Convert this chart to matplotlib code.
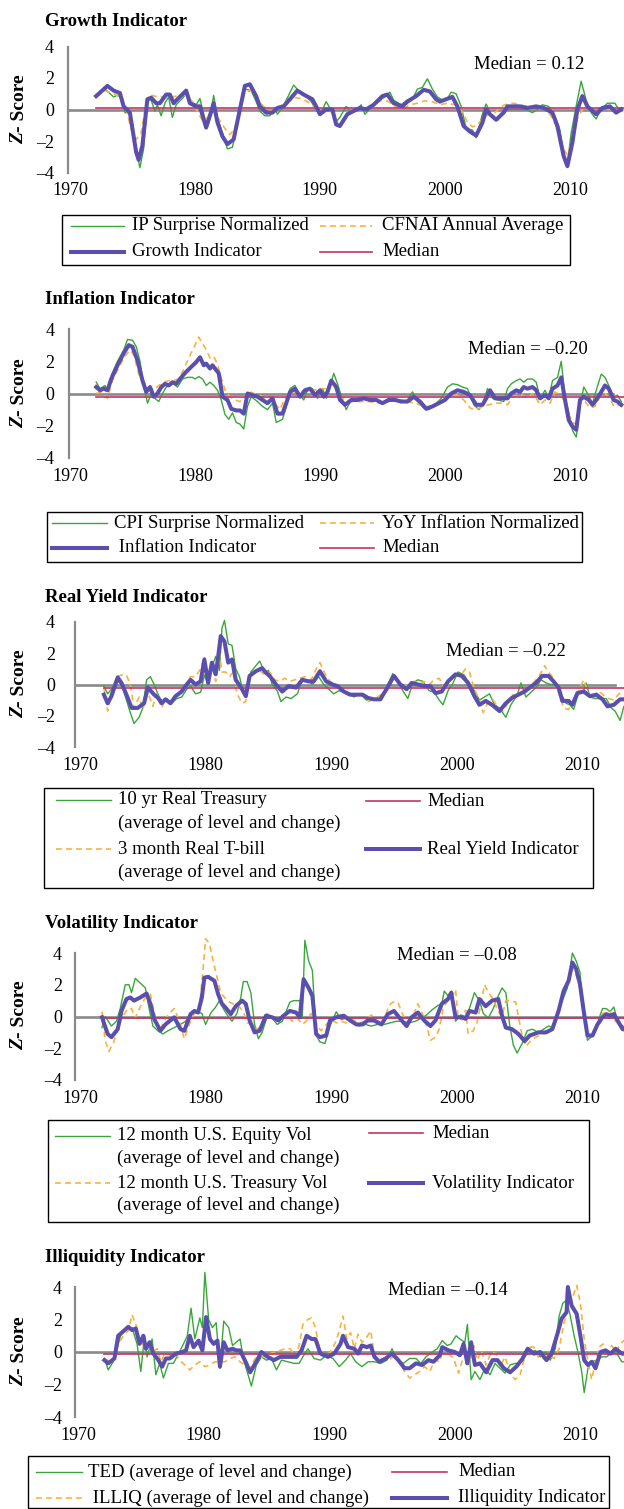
import matplotlib
matplotlib.use("Agg")
import matplotlib.pyplot as plt
from matplotlib.lines import Line2D
from matplotlib.patches import Rectangle

plt.rcParams['font.family'] = ['Liberation Serif', 'DejaVu Serif']

# ---------------------------------------------------------------- data
# (year, z-score) pairs
ip_surprise = [(1972.1,0.8),(1972.8,1.3),(1973.5,0.8),(1973.8,0.9),(1974.2,0.7),(1974.4,-0.2),(1974.8,-0.2),
    (1975.3,-2.5),(1975.6,-3.7),(1975.9,-2.5),(1976.2,0.6),(1976.5,0.6),(1976.8,-0.1),(1977.0,0.3),(1977.3,-0.4),
    (1977.6,0.4),(1977.9,0.8),(1978.2,-0.5),(1978.5,0.3),(1979.0,0.7),(1979.4,1.1),(1979.7,0.5),(1980.1,0.3),
    (1980.4,0.7),(1980.8,-0.6),(1981.0,-1.0),(1981.2,-0.6),(1981.5,0.9),(1981.8,-0.5),(1982.2,-1.5),(1982.6,-2.5),
    (1983.0,-2.4),(1983.2,-1.7),(1983.6,0.3),(1984.0,1.3),(1984.5,1.2),(1984.9,0.5),(1985.2,-0.1),(1985.6,-0.4),
    (1986.0,-0.4),(1986.4,0.0),(1986.6,-0.3),(1987.0,0.1),(1987.5,0.9),(1987.9,1.55),(1988.4,1.1),(1988.8,0.9),
    (1989.3,0.5),(1989.8,-0.1),(1990.1,-0.2),(1990.5,0.5),(1990.8,0.1),(1991.3,-0.8),(1991.6,-0.5),(1992.1,0.2),
    (1992.5,-0.2),(1993.0,0.0),(1993.3,0.3),(1993.6,-0.3),(1994.2,0.2),(1994.8,0.6),(1995.2,0.8),(1995.6,1.1),
    (1995.9,0.6),(1996.5,0.3),(1997.0,0.6),(1997.5,0.8),(1997.8,1.3),(1998.2,1.4),(1998.6,1.95),(1999.0,1.3),
    (1999.4,0.8),(1999.8,0.6),(2000.2,0.7),(2000.5,1.1),(2000.9,1.0),(2001.3,0.2),(2001.7,-1.2),(2002.2,-1.3),
    (2002.5,-1.8),(2003.0,-0.3),(2003.3,0.35),(2003.7,-0.3),(2004.2,-0.7),(2004.7,-0.2),(2005.1,0.0),(2005.6,0.0),
    (2006.0,0.0),(2006.5,0.0),(2007.0,-0.2),(2007.4,0.0),(2007.8,0.3),(2008.3,0.2),(2008.8,-0.4),(2009.2,-1.3),
    (2009.5,-2.8),(2009.8,-3.5),(2010.1,-1.5),(2010.5,0.2),(2010.9,1.8),(2011.3,0.6),(2011.7,-0.2),(2012.1,-0.6),
    (2012.5,0.0),(2013.0,0.4),(2013.6,0.4),(2013.9,0.0),(2014.2,0.1)]
cfnai = [(1972.1,0.8),(1972.8,1.2),(1973.5,1.0),(1974.0,0.8),(1974.5,0.0),(1975.0,-1.5),(1975.3,-1.9),(1975.7,-1.5),
    (1976.1,0.4),(1976.6,0.9),(1977.0,0.8),(1977.6,0.8),(1978.2,0.8),(1978.8,0.9),(1979.3,0.9),(1979.8,0.5),
    (1980.3,-0.3),(1980.7,-0.8),(1981.0,-0.5),(1981.5,-0.1),(1982.0,-0.7),(1982.4,-1.2),(1982.8,-1.6),(1983.2,-1.2),
    (1983.6,0.0),(1984.0,1.1),(1984.5,1.2),(1985.0,0.6),(1985.5,0.2),(1986.0,-0.1),(1986.5,0.0),(1987.0,0.3),
    (1987.5,0.5),(1988.0,0.75),(1988.5,0.7),(1989.0,0.5),(1989.5,0.2),(1990.0,-0.2),(1990.5,0.0),(1991.0,-0.2),
    (1991.4,-0.8),(1991.8,-0.7),(1992.2,-0.3),(1992.8,0.0),(1993.5,0.1),(1994.0,0.2),(1994.5,0.4),(1995.0,0.6),
    (1995.5,0.5),(1996.0,0.2),(1996.6,0.0),(1997.2,0.3),(1997.8,0.4),(1998.4,0.55),(1999.0,0.5),(1999.6,0.3),
    (2000.2,0.4),(2000.8,0.3),(2001.3,0.0),(2001.8,-0.8),(2002.2,-1.1),(2002.6,-1.0),(2003.0,-0.6),(2003.5,-0.3),
    (2004.0,-0.2),(2004.5,0.2),(2005.0,0.35),(2005.5,0.4),(2006.0,0.3),(2006.5,0.2),(2007.0,0.1),(2007.5,0.1),
    (2008.0,0.0),(2008.5,-0.4),(2009.0,-1.2),(2009.4,-2.4),(2009.8,-2.9),(2010.2,-1.9),(2010.6,-0.6),(2011.0,0.0),
    (2011.5,0.1),(2012.0,0.0),(2012.5,0.1),(2013.0,0.0),(2013.5,0.0),(2014.2,0.0)]
growth_ind = [(1972.1,0.85),(1973.0,1.5),(1973.5,1.2),(1974.0,1.05),(1974.3,0.2),(1974.8,-0.2),(1975.3,-2.7),(1975.5,-3.2),
    (1975.8,-2.3),(1976.2,0.65),(1976.5,0.75),(1976.9,0.4),(1977.2,0.4),(1977.7,0.95),(1978.0,0.95),(1978.3,0.4),
    (1978.6,0.65),(1979.3,1.2),(1979.6,0.4),(1980.1,0.2),(1980.4,0.2),(1980.9,-1.15),(1981.2,-0.4),(1981.5,0.4),
    (1981.8,-0.8),(1982.2,-1.7),(1982.6,-2.2),(1983.1,-1.9),(1983.6,0.0),(1984.0,1.5),(1984.4,1.6),(1984.9,0.85),
    (1985.2,0.2),(1985.7,-0.2),(1986.2,-0.2),(1986.6,0.1),(1987.1,0.2),(1987.6,0.65),(1988.2,1.2),(1988.7,0.95),
    (1989.4,0.65),(1989.7,0.2),(1990.0,-0.3),(1990.5,0.0),(1991.0,0.0),(1991.3,-0.95),(1991.6,-1.05),(1992.2,-0.3),
    (1992.7,-0.1),(1993.2,0.1),(1993.7,0.0),(1994.3,0.3),(1995.0,0.85),(1995.4,0.95),(1995.9,0.4),(1996.6,0.2),
    (1997.0,0.5),(1997.7,0.85),(1998.3,1.25),(1998.8,1.15),(1999.3,0.65),(1999.6,0.5),(2000.1,0.65),(2000.6,0.8),
    (2001.0,0.2),(2001.5,-1.05),(2002.0,-1.4),(2002.5,-1.65),(2003.0,-0.85),(2003.3,0.0),(2003.6,-0.3),(2004.1,-0.65),
    (2004.7,-0.2),(2005.0,0.2),(2006.0,0.2),(2006.6,0.1),(2007.3,0.2),(2007.9,0.1),(2008.6,-0.2),(2009.0,-1.05),
    (2009.5,-2.95),(2009.8,-3.6),(2010.2,-2.1),(2010.6,0.0),(2011.0,0.85),(2011.4,0.2),(2012.1,-0.3),(2012.6,0.1),
    (2013.2,0.2),(2013.7,-0.2),(2014.1,0.0)]

cpi_surprise = [(1972.1,0.7),(1972.4,0.3),(1972.8,0.5),(1973.0,0.2),(1973.3,1.1),(1973.8,2.0),(1974.3,2.7),(1974.6,3.35),
    (1975.0,3.3),(1975.3,2.9),(1975.6,2.0),(1975.9,0.5),(1976.2,-0.6),(1976.5,0.0),(1976.8,-0.3),(1977.1,-0.5),
    (1977.4,0.0),(1977.7,0.4),(1978.0,0.5),(1978.3,0.6),(1978.6,0.4),(1979.0,0.9),(1979.4,1.0),(1979.8,1.0),
    (1980.0,0.9),(1980.3,1.05),(1980.6,0.9),(1980.9,0.5),(1981.2,0.7),(1981.5,0.5),(1981.8,0.2),(1982.1,-0.4),
    (1982.4,-1.3),(1982.7,-1.6),(1983.0,-1.2),(1983.3,-1.8),(1983.6,-1.9),(1983.9,-2.2),(1984.2,-0.8),(1984.5,-0.2),
    (1985.0,-0.5),(1985.4,-0.8),(1985.8,-1.0),(1986.2,-0.6),(1986.5,-1.8),(1987.0,-1.6),(1987.3,-0.8),(1987.6,0.3),
    (1988.0,0.5),(1988.3,0.0),(1988.7,-0.4),(1989.0,0.2),(1989.4,0.3),(1989.8,-0.3),(1990.2,0.3),(1990.5,-0.3),
    (1990.8,0.4),(1991.1,1.25),(1991.4,0.6),(1991.8,-0.4),(1992.1,-1.0),(1992.5,-0.4),(1993.0,-0.4),(1993.5,-0.3),
    (1994.0,-0.4),(1994.5,-0.4),(1995.0,-0.6),(1995.5,-0.3),(1996.0,-0.3),(1996.5,-0.5),(1997.0,-0.4),(1997.4,0.1),
    (1997.8,-0.5),(1998.3,-0.9),(1998.7,-1.0),(1999.2,-0.7),(1999.7,-0.3),(2000.2,0.4),(2000.6,0.6),(2001.0,0.55),
    (2001.4,0.4),(2001.8,0.3),(2002.3,-0.7),(2002.7,-1.0),(2003.0,-0.7),(2003.4,0.3),(2003.8,-0.3),(2004.2,-0.4),
    (2004.7,-0.5),(2005.0,0.3),(2005.3,0.6),(2005.7,0.8),(2006.0,0.9),(2006.3,0.7),(2006.6,0.9),(2007.0,0.9),
    (2007.3,0.7),(2007.6,-0.3),(2008.0,0.2),(2008.3,-0.3),(2008.6,0.8),(2009.0,1.0),(2009.3,2.0),(2009.6,-0.2),
    (2009.9,-1.2),(2010.2,-2.3),(2010.5,-2.7),(2010.8,-0.8),(2011.1,0.4),(2011.4,0.0),(2011.8,-0.6),(2012.1,0.2),
    (2012.5,1.2),(2012.8,1.0),(2013.1,0.5),(2013.5,-0.2),(2013.8,-0.1),(2014.1,-0.5)]
yoy_inflation = [(1972.1,0.0),(1972.5,0.1),(1973.0,-0.3),(1973.4,0.8),(1973.9,1.6),(1974.4,2.3),(1974.8,2.7),(1975.1,2.4),
    (1975.5,1.2),(1975.9,0.7),(1976.3,0.4),(1976.7,0.2),(1977.1,0.5),(1977.5,0.7),(1977.9,0.8),(1978.3,0.8),
    (1978.7,0.9),(1979.1,1.5),(1979.5,2.2),(1980.0,3.0),(1980.3,3.5),(1980.6,3.1),(1980.9,2.7),(1981.2,2.2),
    (1981.5,2.3),(1981.8,1.8),(1982.1,1.0),(1982.4,0.2),(1982.8,-0.2),(1983.2,-0.4),(1983.6,-0.5),(1984.0,-0.2),
    (1984.3,0.15),(1984.7,0.0),(1985.2,-0.1),(1985.6,-0.3),(1986.0,-0.2),(1986.4,-0.6),(1986.8,-1.0),(1987.2,-0.3),
    (1987.6,0.1),(1988.0,0.1),(1988.5,0.1),(1989.0,0.3),(1989.5,0.2),(1990.0,0.3),(1990.5,0.3),(1991.0,0.7),
    (1991.4,0.0),(1991.8,-0.3),(1992.3,-0.5),(1993.0,-0.5),(1993.5,-0.5),(1994.0,-0.5),(1994.5,-0.6),(1995.0,-0.6),
    (1995.5,-0.5),(1996.0,-0.4),(1996.5,-0.4),(1997.0,-0.5),(1997.5,-0.6),(1998.0,-0.7),(1998.5,-0.8),(1999.0,-0.8),
    (1999.5,-0.6),(2000.0,-0.3),(2000.5,-0.1),(2001.0,-0.1),(2001.5,-0.4),(2002.0,-0.9),(2002.5,-1.0),(2003.0,-0.8),
    (2003.5,-0.7),(2004.0,-0.6),(2004.5,-0.6),(2005.0,-0.7),(2005.4,-0.2),(2005.8,-0.1),(2006.2,-0.1),(2006.6,-0.3),
    (2007.0,0.0),(2007.3,-0.3),(2007.6,-0.7),(2008.0,-0.4),(2008.4,-0.6),(2008.8,0.1),(2009.2,-0.1),(2009.6,-0.5),
    (2009.9,-1.3),(2010.2,-1.8),(2010.5,-1.9),(2010.8,-0.6),(2011.2,-0.5),(2011.6,-0.9),(2012.0,-0.8),(2012.4,-0.2),
    (2012.8,0.0),(2013.2,-0.3),(2013.5,-0.8),(2013.8,-0.7),(2014.2,-0.8)]
inflation_ind = [(1972.1,0.4),(1972.4,0.2),(1972.7,0.3),(1973.0,0.2),(1973.3,0.9),(1973.8,1.75),(1974.3,2.5),(1974.7,3.0),
    (1975.0,2.9),(1975.4,2.05),(1975.8,0.8),(1976.1,0.1),(1976.4,0.4),(1976.7,-0.2),(1977.0,0.0),(1977.3,0.4),
    (1977.6,0.6),(1977.9,0.5),(1978.2,0.7),(1978.5,0.6),(1978.9,1.0),(1979.3,1.35),(1979.7,1.65),(1980.1,1.95),
    (1980.4,2.25),(1980.7,1.75),(1980.9,1.85),(1981.2,1.55),(1981.4,1.75),(1981.7,1.45),(1981.9,1.25),(1982.2,-0.2),
    (1982.6,-0.4),(1982.9,-0.95),(1983.3,-1.05),(1983.6,-1.05),(1983.9,-1.25),(1984.2,0.0),(1984.6,-0.1),(1985.0,-0.2),
    (1985.4,-0.4),(1985.8,-0.6),(1986.2,-0.3),(1986.6,-1.25),(1987.0,-1.25),(1987.3,-0.6),(1987.6,0.1),(1988.0,0.3),
    (1988.4,-0.2),(1988.8,0.2),(1989.2,0.3),(1989.6,-0.1),(1990.0,0.2),(1990.3,-0.2),(1990.6,0.1),(1990.9,0.8),
    (1991.3,0.4),(1991.6,-0.4),(1992.0,-0.7),(1992.5,-0.4),(1993.0,-0.4),(1993.5,-0.3),(1994.0,-0.4),(1994.5,-0.4),
    (1995.0,-0.6),(1995.5,-0.4),(1996.0,-0.4),(1996.5,-0.5),(1997.0,-0.5),(1997.5,-0.2),(1998.0,-0.5),(1998.5,-0.95),
    (1999.0,-0.8),(1999.5,-0.6),(2000.0,-0.4),(2000.5,0.0),(2001.0,0.2),(2001.5,0.1),(2002.0,-0.1),(2002.5,-0.7),
    (2003.0,-0.7),(2003.3,-0.3),(2003.6,0.2),(2004.0,-0.3),(2004.5,-0.3),(2005.0,-0.3),(2005.3,0.0),(2005.7,0.2),
    (2006.0,0.1),(2006.3,0.4),(2006.6,0.3),(2007.0,0.4),(2007.3,0.2),(2007.6,-0.3),(2008.0,-0.1),(2008.3,-0.3),
    (2008.6,0.3),(2009.0,0.5),(2009.3,1.0),(2009.6,-0.4),(2009.9,-1.65),(2010.2,-2.05),(2010.5,-2.25),(2010.8,-0.4),
    (2011.1,-0.2),(2011.5,-0.4),(2011.8,-0.7),(2012.1,-0.4),(2012.5,0.1),(2012.8,0.5),(2013.1,0.3),(2013.5,-0.4),
    (2013.8,-0.5),(2014.1,-0.7)]

real_treasury = [(1971.9,-0.1),(1972.2,-0.6),(1972.5,-0.3),(1972.9,0.3),(1973.3,0.0),(1973.7,-1.0),(1974.0,-1.8),
    (1974.3,-2.5),(1974.7,-2.1),(1975.0,-1.5),(1975.3,0.3),(1975.6,0.5),(1975.9,0.0),(1976.3,-0.8),(1976.6,-1.1),
    (1976.9,-0.9),(1977.3,-1.2),(1977.7,-0.9),(1978.1,-0.8),(1978.5,-0.3),(1978.8,-0.1),(1979.2,-0.6),(1979.6,-0.5),
    (1979.9,0.6),(1980.2,0.0),(1980.5,1.1),(1980.8,1.8),(1981.1,0.9),(1981.3,3.6),(1981.5,4.1),(1981.8,2.6),
    (1982.1,2.5),(1982.4,1.0),(1982.7,0.5),(1983.0,-0.5),(1983.3,-0.4),(1983.6,0.8),(1984.0,1.2),(1984.3,1.5),
    (1984.7,0.8),(1985.0,0.9),(1985.3,0.0),(1985.7,-0.4),(1986.0,-1.1),(1986.4,-0.8),(1986.8,-0.9),(1987.3,-0.6),
    (1987.7,0.3),(1988.1,0.3),(1988.5,0.0),(1989.0,0.5),(1989.4,0.0),(1989.8,-0.3),(1990.2,-0.6),(1990.6,-0.4),
    (1991.0,-0.5),(1991.4,-0.6),(1991.8,-0.8),(1992.3,-0.6),(1992.8,-1.0),(1993.2,-0.9),(1993.6,-0.9),(1994.0,-1.0),
    (1994.4,-0.2),(1994.9,0.7),(1995.3,0.2),(1995.7,-0.4),(1996.1,-0.9),(1996.5,0.1),(1996.9,0.3),(1997.3,0.2),
    (1997.8,-0.4),(1998.2,-0.5),(1998.6,-1.0),(1998.9,-1.3),(1999.3,-0.4),(1999.7,0.1),(2000.1,0.8),(2000.6,0.6),
    (2001.0,0.0),(2001.4,-0.4),(2001.8,-1.0),(2002.2,-0.8),(2002.6,-0.6),(2003.0,-1.3),(2003.4,-1.5),(2003.9,-2.1),
    (2004.3,-1.3),(2004.8,-0.7),(2005.1,0.1),(2005.5,-0.8),(2005.9,-0.5),(2006.3,-0.2),(2006.7,0.3),(2007.1,0.1),
    (2007.5,0.0),(2007.9,0.0),(2008.3,-0.6),(2008.7,-1.2),(2009.0,-1.3),(2009.3,-1.6),(2009.7,-0.5),(2010.1,-0.4),
    (2010.3,0.1),(2010.6,-0.8),(2011.0,-0.9),(2011.5,-0.9),(2011.9,-0.9),(2012.3,-1.5),(2012.6,-1.7),(2013.0,-2.3),
    (2013.3,-1.4),(2013.7,-1.5)]
real_tbill = [(1971.9,-0.2),(1972.2,-1.7),(1972.5,-0.5),(1972.9,0.5),(1973.3,0.6),(1973.7,0.6),(1974.0,0.0),(1974.3,-1.5),
    (1974.7,-0.8),(1975.0,-1.6),(1975.4,-0.5),(1975.8,-1.4),(1976.1,-0.6),(1976.5,-1.5),(1976.8,-0.9),(1977.2,-1.3),
    (1977.6,-0.8),(1978.0,-0.4),(1978.4,0.0),(1978.8,0.5),(1979.2,0.5),(1979.6,1.0),(1979.9,1.8),(1980.2,0.2),
    (1980.5,1.4),(1980.8,0.2),(1981.1,2.0),(1981.3,0.8),(1981.6,0.8),(1981.9,0.5),(1982.2,0.8),(1982.5,-0.6),
    (1982.9,-1.2),(1983.2,-1.1),(1983.5,0.4),(1983.9,0.8),(1984.3,0.9),(1984.7,0.6),(1985.1,0.8),(1985.5,0.3),
    (1985.9,0.2),(1986.3,0.4),(1986.7,0.2),(1987.1,0.3),(1987.5,0.4),(1987.9,0.5),(1988.4,0.3),(1988.8,1.0),
    (1989.1,1.4),(1989.5,0.7),(1989.9,0.2),(1990.3,0.0),(1990.8,-0.3),(1991.2,-0.5),(1991.6,-0.6),(1992.0,-0.7),
    (1992.4,-0.5),(1992.9,-1.1),(1993.3,-1.0),(1993.7,-0.8),(1994.2,-0.5),(1994.6,0.1),(1995.0,0.5),(1995.4,0.1),
    (1995.8,-0.1),(1996.2,0.0),(1996.6,0.2),(1997.0,0.0),(1997.4,0.2),(1997.8,0.0),(1998.2,0.3),(1998.6,0.4),
    (1999.0,-0.3),(1999.4,0.2),(1999.8,0.5),(2000.3,0.6),(2000.7,1.0),(2001.0,0.8),(2001.4,-0.3),(2001.8,-1.0),
    (2002.1,-1.8),(2002.5,-1.1),(2002.9,-1.0),(2003.3,-1.5),(2003.7,-1.7),(2004.2,-1.0),(2004.6,-0.5),(2005.0,-0.6),
    (2005.4,-0.5),(2005.8,-0.2),(2006.2,0.2),(2006.6,0.6),(2007.0,1.2),(2007.3,0.8),(2007.7,0.4),(2008.1,-0.5),
    (2008.5,-1.5),(2008.9,-1.6),(2009.3,-1.0),(2009.7,-0.4),(2010.1,0.3),(2010.5,-0.6),(2010.9,-0.9),(2011.3,-0.4),
    (2011.7,-0.7),(2012.1,-0.9),(2012.5,-1.0),(2012.9,-0.6),(2013.3,-0.5),(2013.7,-0.5)]
real_yield_ind = [(1971.9,-0.65),(1972.2,-1.2),(1972.5,-0.75),(1973.0,0.45),(1973.3,0.1),(1973.8,-0.85),(1974.1,-1.5),
    (1974.6,-1.5),(1975.1,-1.2),(1975.4,-0.2),(1975.9,-0.65),(1976.2,-0.85),(1976.5,-1.2),(1976.8,-0.95),(1977.2,-1.2),
    (1977.6,-0.75),(1978.1,-0.45),(1978.4,-0.1),(1978.8,0.3),(1979.2,0.0),(1979.6,0.2),(1979.9,1.6),(1980.2,0.1),
    (1980.5,1.4),(1980.8,0.65),(1981.0,1.8),(1981.2,3.1),(1981.5,2.75),(1981.8,1.4),(1982.1,1.6),(1982.4,0.3),
    (1982.9,-0.3),(1983.2,-0.75),(1983.5,0.55),(1984.0,0.85),(1984.5,1.05),(1984.8,0.75),(1985.1,0.55),(1985.6,0.0),
    (1986.1,-0.45),(1986.6,-0.1),(1987.2,-0.2),(1987.7,0.3),(1988.2,0.2),(1988.6,0.2),(1989.1,0.85),(1989.6,0.2),
    (1990.1,0.0),(1990.5,-0.1),(1991.0,-0.45),(1991.5,-0.65),(1992.0,-0.65),(1992.5,-0.65),(1992.9,-0.85),(1993.4,-0.95),
    (1993.9,-0.95),(1994.4,-0.3),(1995.0,0.55),(1995.5,0.0),(1996.0,-0.3),(1996.4,0.1),(1996.9,0.0),(1997.4,-0.1),
    (1997.9,-0.1),(1998.3,-0.55),(1998.8,-0.45),(1999.3,0.2),(1999.9,0.65),(2000.4,0.55),(2000.9,0.1),(2001.4,-0.75),
    (2001.8,-1.3),(2002.3,-1.05),(2002.8,-1.3),(2003.4,-1.7),(2003.9,-1.2),(2004.4,-0.85),(2004.9,-0.65),(2005.4,-0.45),
    (2005.8,-0.2),(2006.3,0.1),(2006.8,0.55),(2007.3,0.55),(2007.7,0.2),(2008.1,-0.2),(2008.4,-1.05),(2008.9,-1.05),
    (2009.2,-1.3),(2009.6,-0.55),(2010.1,-0.45),(2010.6,-0.75),(2011.1,-0.65),(2011.6,-0.95),(2012.0,-1.4),
    (2012.5,-1.3),(2013.0,-0.95),(2013.6,-0.95)]

equity_vol = [(1971.75,-0.7),(1972.0,0.0),(1972.5,-0.6),(1972.9,-0.3),(1973.2,0.5),(1973.6,2.0),(1973.9,2.0),(1974.1,1.5),
    (1974.4,2.4),(1974.8,2.1),(1975.2,1.8),(1975.5,0.5),(1975.8,-0.6),(1976.2,-0.9),(1976.6,-1.1),(1977.0,-0.9),
    (1977.5,-0.7),(1978.0,-0.5),(1978.4,-0.3),(1978.9,0.3),(1979.3,0.3),(1979.7,0.2),(1980.0,-0.5),(1980.4,0.2),
    (1980.8,0.6),(1981.1,1.0),(1981.4,0.5),(1981.8,0.0),(1982.1,-0.3),(1982.5,0.2),(1982.8,1.2),(1983.0,2.2),
    (1983.3,2.2),(1983.6,1.5),(1983.9,-0.5),(1984.2,-1.4),(1984.5,-1.0),(1984.9,0.0),(1985.3,-0.1),(1985.7,-0.5),
    (1986.1,-0.3),(1986.4,0.3),(1986.7,0.9),(1987.0,1.0),(1987.5,1.0),(1987.7,0.0),(1987.9,4.8),(1988.2,3.5),
    (1988.5,2.9),(1988.8,-1.2),(1989.1,-1.6),(1989.5,-1.7),(1989.9,-0.6),(1990.4,0.3),(1990.8,-0.2),(1991.2,-0.1),
    (1991.7,-0.4),(1992.2,-0.6),(1992.7,-0.5),(1993.2,-0.6),(1993.7,-0.5),(1994.2,-0.5),(1994.7,-0.4),(1995.2,-0.3),
    (1995.7,-0.3),(1996.2,-0.4),(1996.7,-0.3),(1997.2,-0.1),(1997.6,0.1),(1998.0,0.4),(1998.5,0.7),(1998.8,0.8),
    (1999.0,1.6),(1999.3,1.3),(1999.6,1.6),(1999.9,-0.3),(2000.3,0.1),(2000.7,0.0),(2001.0,0.5),(2001.4,1.5),
    (2001.8,1.0),(2002.1,0.2),(2002.5,-0.1),(2002.9,0.5),(2003.3,1.3),(2003.6,1.8),(2003.9,1.5),(2004.2,-0.5),
    (2004.5,-1.8),(2004.8,-2.3),(2005.2,-1.7),(2005.6,-0.9),(2006.0,-0.8),(2006.5,-1.0),(2006.9,-0.8),(2007.3,-0.6),
    (2007.7,-0.7),(2008.0,0.3),(2008.4,1.0),(2008.8,1.8),(2009.2,4.0),(2009.5,3.5),(2009.8,2.8),(2010.1,0.2),
    (2010.4,-1.5),(2010.8,-1.2),(2011.2,-0.4),(2011.6,0.5),(2011.9,0.5),(2012.2,0.3),(2012.5,0.6),(2012.8,-0.3),
    (2013.2,-0.6),(2013.6,-0.7)]
treasury_vol = [(1971.75,0.3),(1972.0,-1.5),(1972.3,-2.2),(1972.7,-1.6),(1973.0,-0.8),(1973.4,0.0),(1973.8,0.5),
    (1974.1,0.5),(1974.4,-0.1),(1974.8,0.6),(1975.2,1.2),(1975.6,1.4),(1975.9,0.3),(1976.3,-0.9),(1976.7,-0.3),
    (1977.1,0.2),(1977.5,0.5),(1977.9,-0.3),(1978.3,-1.4),(1978.7,-0.5),(1979.1,0.2),(1979.5,0.5),(1979.8,3.0),
    (1980.0,4.9),(1980.3,4.6),(1980.6,3.5),(1980.9,2.5),(1981.2,1.5),(1981.5,1.2),(1981.9,0.9),(1982.2,0.8),
    (1982.6,0.7),(1983.0,0.3),(1983.3,-0.4),(1983.7,-0.5),(1984.1,-0.8),(1984.5,-0.6),(1984.9,0.2),(1985.3,-0.1),
    (1985.7,-0.3),(1986.1,-0.1),(1986.5,0.1),(1986.9,-0.3),(1987.3,-0.1),(1987.7,-0.5),(1988.0,-0.3),(1988.4,0.2),
    (1988.8,-0.5),(1989.2,-0.9),(1989.6,-0.5),(1990.0,-0.2),(1990.4,-0.4),(1990.8,-0.3),(1991.2,-0.4),(1991.7,-0.2),
    (1992.2,-0.4),(1992.7,-0.3),(1993.2,0.1),(1993.7,-0.3),(1994.1,-0.5),(1994.6,0.7),(1994.9,0.9),(1995.3,0.9),
    (1995.7,0.1),(1996.1,-0.3),(1996.5,0.0),(1996.9,0.8),(1997.3,0.1),(1997.7,-0.9),(1997.9,-1.5),(1998.3,-1.3),
    (1998.6,-0.8),(1998.9,0.5),(1999.3,1.0),(1999.6,1.2),(1999.9,1.7),(2000.1,-0.1),(2000.4,-0.2),(2000.7,0.4),
    (2000.9,-1.1),(2001.3,-0.9),(2001.6,-0.4),(2001.9,0.7),(2002.2,2.0),(2002.6,1.4),(2002.9,1.1),(2003.3,0.3),
    (2003.6,0.0),(2003.9,1.0),(2004.3,1.0),(2004.7,0.9),(2004.9,0.0),(2005.2,-1.2),(2005.5,-1.9),(2005.9,-1.5),
    (2006.3,-1.3),(2006.8,-1.1),(2007.3,-1.0),(2007.7,-0.5),(2008.1,0.5),(2008.5,1.5),(2008.9,2.2),(2009.2,3.0),
    (2009.5,2.6),(2009.8,1.8),(2010.1,0.5),(2010.4,-1.0),(2010.8,-1.3),(2011.2,-0.6),(2011.6,0.2),(2011.9,0.2),
    (2012.2,0.3),(2012.5,-0.2),(2012.9,-0.5),(2013.3,-0.9),(2013.6,-1.2)]
volatility_ind = [(1971.75,-0.05),(1972.2,-1.1),(1972.5,-1.3),(1973.0,-0.8),(1973.3,0.35),(1973.7,1.1),(1974.0,1.2),
    (1974.3,1.0),(1974.8,1.2),(1975.3,1.45),(1975.6,0.8),(1975.9,-0.15),(1976.4,-0.9),(1976.8,-0.5),(1977.5,-0.05),
    (1978.0,-0.8),(1978.3,-0.9),(1978.8,0.15),(1979.1,0.35),(1979.4,0.25),(1979.7,1.2),(1979.9,2.45),(1980.2,2.5),
    (1980.7,2.25),(1981.0,1.4),(1981.3,0.8),(1981.6,0.55),(1982.0,0.15),(1982.4,0.65),(1982.9,1.0),(1983.2,0.8),
    (1983.5,-0.25),(1983.9,-1.0),(1984.3,-0.9),(1984.8,0.05),(1985.3,-0.05),(1985.8,-0.25),(1986.2,0.05),(1986.7,0.35),
    (1987.2,0.25),(1987.5,-0.05),(1987.8,2.35),(1988.2,1.8),(1988.5,1.3),(1988.8,-1.1),(1989.1,-1.3),(1989.6,-1.2),
    (1989.9,-0.25),(1990.4,-0.05),(1991.0,0.05),(1991.5,-0.25),(1992.0,-0.5),(1992.5,-0.5),(1992.9,-0.25),
    (1993.4,-0.25),(1994.0,-0.5),(1994.5,0.15),(1995.0,0.35),(1995.5,-0.15),(1996.0,-0.6),(1996.4,-0.05),(1996.9,0.25),
    (1997.4,-0.25),(1997.9,-0.6),(1998.3,-0.25),(1998.8,0.8),(1999.3,1.1),(1999.55,1.5),(1999.9,-0.05),(2000.4,-0.05),
    (2000.7,-0.15),(2001.0,0.35),(2001.5,0.25),(2001.8,1.1),(2002.3,0.65),(2002.8,1.0),(2003.3,1.1),(2003.6,0.05),
    (2003.9,-0.7),(2004.4,-0.8),(2004.9,-1.1),(2005.4,-1.55),(2005.8,-1.2),(2006.5,-1.0),(2007.1,-1.0),(2007.6,-0.8),
    (2008.1,0.35),(2008.5,1.6),(2008.9,2.25),(2009.2,3.4),(2009.5,3.0),(2009.8,2.05),(2010.1,0.35),(2010.4,-1.2),
    (2010.8,-1.2),(2011.2,-0.5),(2011.6,-0.05),(2011.9,0.15),(2012.2,0.05),(2012.5,0.15),(2012.8,-0.25),(2013.2,-0.8),
    (2013.6,-0.8)]

ted = [(1972.1,-0.4),(1972.4,-1.1),(1972.8,-0.6),(1973.1,0.2),(1973.5,1.3),(1973.9,1.4),(1974.3,1.5),(1974.7,0.5),
    (1975.0,-1.2),(1975.3,1.0),(1975.5,-0.3),(1975.9,0.8),(1976.2,-1.4),(1976.5,-0.7),(1976.8,-1.6),(1977.2,-0.7),
    (1977.6,-0.7),(1978.0,-0.1),(1978.4,0.5),(1978.7,1.0),(1979.0,2.7),(1979.3,0.8),(1979.7,2.1),(1979.9,1.5),
    (1980.1,4.9),(1980.4,2.0),(1980.7,1.5),(1981.0,1.8),(1981.3,-1.0),(1981.6,1.9),(1982.0,1.5),(1982.3,0.4),
    (1982.6,0.6),(1982.9,0.8),(1983.2,-0.5),(1983.5,-1.3),(1983.8,-2.1),(1984.2,-0.8),(1984.6,-0.3),(1985.0,-0.5),
    (1985.4,-0.4),(1985.8,-1.1),(1986.2,-0.5),(1986.7,-0.6),(1987.2,-0.7),(1987.6,-0.7),(1987.9,-0.3),(1988.3,0.2),
    (1988.8,-0.4),(1989.3,-0.5),(1989.8,-0.2),(1990.3,-0.4),(1990.8,-0.9),(1991.3,-0.5),(1991.7,-0.1),(1992.1,-0.6),
    (1992.6,-0.9),(1993.1,-0.6),(1993.6,-0.6),(1994.1,-0.7),(1994.6,-0.5),(1995.0,0.2),(1995.4,-0.5),(1995.9,-0.7),
    (1996.4,-0.4),(1996.9,-0.4),(1997.3,-0.7),(1997.7,-0.3),(1998.2,0.0),(1998.6,0.2),(1999.0,0.7),(1999.4,0.4),
    (1999.7,0.5),(2000.1,1.0),(2000.4,0.8),(2000.8,0.6),(2001.0,1.7),(2001.3,-1.7),(2001.6,-1.2),(2002.0,-1.7),
    (2002.4,-1.0),(2002.8,-1.4),(2003.2,-0.7),(2003.6,-1.0),(2004.0,-1.3),(2004.4,-0.8),(2004.8,-0.7),(2005.2,-0.7),
    (2005.6,-0.2),(2006.0,-0.1),(2006.4,0.1),(2006.8,-0.3),(2007.2,0.0),(2007.6,-0.5),(2008.0,0.2),(2008.3,2.2),
    (2008.6,3.0),(2008.9,3.2),(2009.2,2.2),(2009.5,1.0),(2009.8,0.0),(2010.1,-1.2),(2010.3,-2.5),(2010.6,-1.0),
    (2010.9,-0.6),(2011.3,-0.5),(2011.7,-0.3),(2012.1,-0.3),(2012.5,0.0),(2012.9,-0.1),(2013.3,-0.6),(2013.7,-0.6)]
illiq = [(1972.1,-0.4),(1972.5,-0.6),(1972.9,-0.3),(1973.2,0.5),(1973.6,1.0),(1974.0,1.3),(1974.3,2.3),(1974.6,1.7),
    (1974.9,0.8),(1975.2,0.4),(1975.5,0.6),(1975.9,0.0),(1976.3,0.2),(1976.6,-0.6),(1976.9,-0.1),(1977.3,-0.2),
    (1977.7,0.0),(1978.1,-0.5),(1978.5,-0.8),(1978.9,-1.1),(1979.3,-0.8),(1979.7,-0.6),(1980.1,-0.9),(1980.5,-0.8),
    (1980.9,-0.6),(1981.3,-0.6),(1981.7,-0.6),(1982.1,-0.4),(1982.5,-0.3),(1982.9,-0.6),(1983.3,-0.8),(1983.7,-1.0),
    (1984.1,-0.4),(1984.5,-0.3),(1984.9,-0.3),(1985.3,-0.1),(1985.7,0.0),(1986.1,0.1),(1986.5,0.2),(1986.9,0.2),
    (1987.3,-0.3),(1987.6,0.4),(1987.9,1.7),(1988.3,2.0),(1988.6,2.1),(1988.9,1.5),(1989.3,-0.1),(1989.7,-0.2),
    (1990.1,0.0),(1990.5,0.6),(1990.8,1.3),(1991.1,2.2),(1991.4,0.8),(1991.7,1.2),(1992.0,0.2),(1992.3,1.1),
    (1992.6,0.6),(1992.9,0.8),(1993.3,1.3),(1993.6,-0.2),(1994.0,-0.4),(1994.4,-0.4),(1994.8,-0.5),(1995.2,-0.2),
    (1995.6,-0.6),(1996.0,-1.2),(1996.4,-1.6),(1996.8,-1.4),(1997.2,-1.2),(1997.6,-0.9),(1998.0,-1.2),(1998.4,-0.5),
    (1998.8,-0.6),(1999.1,0.3),(1999.5,-0.1),(1999.9,-0.4),(2000.3,-1.3),(2000.6,-0.5),(2000.9,-0.7),(2001.2,-0.7),
    (2001.5,0.4),(2001.8,-0.5),(2002.1,0.1),(2002.5,-0.8),(2002.9,0.0),(2003.3,-0.1),(2003.6,-0.9),(2004.0,-0.3),
    (2004.4,-1.3),(2004.8,-1.7),(2005.2,-1.4),(2005.5,-0.5),(2005.9,0.3),(2006.3,0.3),(2006.7,-0.4),(2007.1,-0.4),
    (2007.5,-0.2),(2007.9,-0.4),(2008.3,0.2),(2008.7,1.8),(2009.1,3.0),(2009.4,3.4),(2009.7,4.1),(2010.0,3.0),
    (2010.3,0.8),(2010.6,-0.6),(2010.9,-1.7),(2011.2,-0.6),(2011.5,0.3),(2011.8,0.5),(2012.1,0.0),(2012.5,0.4),
    (2012.8,0.0),(2013.2,0.5),(2013.6,0.8)]
illiquidity_ind = [(1972.1,-0.5),(1972.4,-0.7),(1972.9,-0.4),(1973.2,1.0),(1973.5,1.2),(1974.0,1.55),(1974.3,1.35),
    (1974.6,1.45),(1974.9,0.5),(1975.2,1.0),(1975.4,0.2),(1975.7,0.6),(1976.0,-0.1),(1976.4,-0.5),(1976.7,-0.9),
    (1977.0,-0.4),(1977.3,-0.4),(1977.8,-0.1),(1978.3,0.0),(1978.6,0.1),(1978.9,1.0),(1979.2,0.3),(1979.6,0.7),
    (1979.9,0.1),(1980.2,2.15),(1980.5,0.8),(1980.8,0.5),(1981.1,0.7),(1981.3,-0.9),(1981.6,0.6),(1981.9,0.1),
    (1982.3,0.2),(1982.6,0.1),(1982.9,0.1),(1983.4,-0.7),(1983.7,-1.25),(1984.2,-0.6),(1984.6,0.0),(1985.1,-0.3),
    (1985.6,-0.5),(1986.1,-0.3),(1986.7,-0.3),(1987.4,-0.3),(1987.8,0.1),(1988.2,1.0),(1988.6,0.8),(1988.9,0.8),
    (1989.3,-0.1),(1989.9,-0.3),(1990.4,-0.1),(1990.9,0.5),(1991.1,1.0),(1991.5,0.3),(1992.0,0.2),(1992.3,-0.1),
    (1992.6,0.4),(1993.0,0.3),(1993.3,0.4),(1993.6,-0.3),(1994.0,-0.6),(1994.5,-0.4),(1995.0,-0.1),(1995.5,-0.5),
    (1996.0,-1.0),(1996.4,-1.0),(1996.9,-0.7),(1997.4,-0.8),(1997.9,-0.5),(1998.3,-0.6),(1998.8,-0.2),(1999.0,0.3),
    (1999.5,0.1),(2000.0,0.0),(2000.4,-0.2),(2000.7,0.5),(2001.0,-0.7),(2001.3,0.6),(2001.6,-0.8),(2002.0,-0.7),
    (2002.5,-1.25),(2003.0,-0.5),(2003.4,-0.5),(2003.9,-1.0),(2004.4,-1.25),(2004.9,-0.9),(2005.4,-0.4),(2005.8,0.2),
    (2006.3,-0.1),(2006.8,0.0),(2007.3,-0.5),(2007.7,-0.1),(2008.2,1.2),(2008.5,2.05),(2008.9,2.45),(2009.0,4.0),
    (2009.3,2.85),(2009.7,2.35),(2010.0,1.0),(2010.3,-0.5),(2010.6,-0.8),(2010.9,-0.6),(2011.2,-1.0),(2011.6,0.0),
    (2012.0,0.1),(2012.4,-0.1),(2012.8,0.2),(2013.3,-0.1),(2013.7,-0.1)]

titles = ["Growth Indicator", "Inflation Indicator", "Real Yield Indicator",
          "Volatility Indicator", "Illiquidity Indicator"]
medians = [0.12, -0.20, -0.22, -0.08, -0.14]
median_labels = ["Median = 0.12", "Median = \u20130.20", "Median = \u20130.22",
                 "Median = \u20130.08", "Median = \u20130.14"]
ytick_vals = [-4, -2, 0, 2, 4]
ytick_labels = ["\u20134", "\u20132", "0", "2", "4"]
xtick_vals = [1970, 1980, 1990, 2000, 2010]
xtick_labels = ["1970", "1980", "1990", "2000", "2010"]

green_series = [ip_surprise, cpi_surprise, real_treasury, equity_vol, ted]
orange_series = [cfnai, yoy_inflation, real_tbill, treasury_vol, illiq]
purple_series = [growth_ind, inflation_ind, real_yield_ind, volatility_ind, illiquidity_ind]

legend_labels = [
    (["IP Surprise Normalized"], ["CFNAI Annual Average"], ["Growth Indicator"], ["Median"]),
    (["CPI Surprise Normalized"], ["YoY Inflation Normalized"], [" Inflation Indicator"], ["Median"]),
    (["10 yr Real Treasury", "(average of level and change)"], ["3 month Real T-bill", "(average of level and change)"],
     ["Real Yield Indicator"], ["Median"]),
    (["12 month U.S. Equity Vol", "(average of level and change)"], ["12 month U.S. Treasury Vol", "(average of level and change)"],
     ["Volatility Indicator"], ["Median"]),
    (["TED (average of level and change)"], [" ILLIQ (average of level and change)"], ["Illiquidity Indicator"], ["Median"]),
]

# ---------------------------------------------------------------- style / layout
W, H = 624, 1509
GREEN = "#3aa63a"
ORANGE = "#f9b23c"
PURPLE = "#5a4fae"
MEDC = "#c5336a"
GRAY = "#8a8a8a"

fig = plt.figure(figsize=(W / 100, H / 100), dpi=100)

def fx(x):
    return x / W

def fy(y):
    return 1 - y / H

panels = [
    dict(left=68, y0=1969.85, ppy=12.5, top=46.5, bot=172.5, zend=2014.1, ty=21, pad=10,
         mtxt=(2002.3, 2.85)),
    dict(left=69, y0=1969.92, ppy=12.5, top=329, bot=458, zend=2013.4, ty=300, pad=10.5,
         mtxt=(2001.8, 2.75)),
    dict(left=75, y0=1969.6, ppy=12.56, top=622, bot=747, zend=2012.6, ty=597, pad=14.5,
         mtxt=(1999.1, 2.1)),
    dict(left=75, y0=1969.6, ppy=12.56, top=953, bot=1080, zend=2014.5, ty=923, pad=9.5,
         mtxt=(1995.2, 3.85)),
    dict(left=75, y0=1969.76, ppy=12.56, top=1287, bot=1417, zend=2014.5, ty=1257, pad=9.5,
         mtxt=(1994.7, 3.8)),
]

legends = [
    dict(box=(62, 215, 570, 265), rows=[[226], [252]], h1=(71, 124), t1=132, h2=(320, 372), t2=382,
         med_dy=0),
    dict(box=(47, 512, 582, 562), rows=[[523], [548]], h1=(52, 107), t1=114, h2=(320, 374), t2=382,
         med_dy=0),
    dict(box=(44, 788, 593, 888), rows=[[800, 823], [849, 872]], h1=(56, 111), t1=118, h2=(366, 420), t2=427,
         med_dy=1),
    dict(box=(48, 1120, 589, 1222), rows=[[1136, 1158], [1183, 1205]], h1=(55, 110), t1=117, h2=(369, 423), t2=432,
         med_dy=-3),
    dict(box=(28, 1456, 609, 1508), rows=[[1472], [1498]], h1=(36, 82), t1=88, h2=(392, 447), t2=458,
         med_dy=0),
]

FS = 13.5

for i, p in enumerate(panels):
    left, top, bot = p["left"], p["top"], p["bot"]
    ax = fig.add_axes([fx(left), fy(bot), (W - left) / W, (bot - top) / H])
    ax.set_xlim(p["y0"], p["y0"] + (W - left) / p["ppy"])
    ax.set_ylim(-4, 4)
    for s in ["top", "right", "bottom"]:
        ax.spines[s].set_visible(False)
    ax.spines["left"].set_color(GRAY)
    ax.spines["left"].set_linewidth(1.6)
    ax.patch.set_alpha(0)
    ax.set_yticks(ytick_vals)
    ax.set_yticklabels(ytick_labels, fontsize=13)
    ax.set_xticks(xtick_vals)
    ax.set_xticklabels(xtick_labels, fontsize=13)
    ax.tick_params(axis="y", length=0, pad=p["pad"])
    ax.tick_params(axis="x", length=0, pad=7)

    ax.plot([p["y0"], p["zend"]], [0, 0], color=GRAY, lw=1.9, zorder=1)

    g = green_series[i]
    o = orange_series[i]
    u = purple_series[i]
    ax.plot([a for a, b in g], [b for a, b in g], color=GREEN, lw=1.0, zorder=2, clip_on=False)
    ax.plot([a for a, b in o], [b for a, b in o], color=ORANGE, lw=1.2, ls=(0, (3.5, 2.5)), zorder=3, clip_on=False)
    ax.plot([u[0][0], u[-1][0] + 1], [medians[i], medians[i]], color=MEDC, lw=1.2, zorder=4, clip_on=False)
    ax.plot([a for a, b in u], [b for a, b in u], color=PURPLE, lw=2.9, zorder=5, clip_on=False,
            solid_joinstyle="round")

    ax.text(p["mtxt"][0], p["mtxt"][1], median_labels[i], fontsize=FS, va="center", ha="left")

    fig.text(fx(45), fy(p["ty"]), titles[i], fontsize=13.5, fontweight="bold", va="center", ha="left")

    # y-axis label "Z- Score" (italic Z), reading bottom to top
    cy = (top + bot) / 2
    ybot = cy + 34
    fig.text(fx(19), fy(ybot), "Z", fontsize=14, fontweight="bold", fontstyle="italic",
             rotation=90, va="bottom", ha="center")
    fig.text(fx(19), fy(ybot - 12), "- Score", fontsize=14, fontweight="bold",
             rotation=90, va="bottom", ha="center")

    # legend
    L = legends[i]
    x0, y0, x1, y1 = L["box"]
    fig.add_artist(Rectangle((fx(x0), fy(y1)), (x1 - x0) / W, (y1 - y0) / H, transform=fig.transFigure,
                             fill=False, edgecolor="black", lw=1.0))
    lab_green, lab_orange, lab_purple, lab_med = legend_labels[i]
    if i in (0, 1):
        entries = [
            (0, 0, lab_green, dict(color=GREEN, lw=1.0), 0),
            (1, 0, lab_orange, dict(color=ORANGE, lw=1.2, ls=(0, (3.5, 2.5))), 0),
            (0, 1, lab_purple, dict(color=PURPLE, lw=2.9), 0),
            (1, 1, lab_med, dict(color=MEDC, lw=1.2), 0),
        ]
    else:
        entries = [
            (0, 0, lab_green, dict(color=GREEN, lw=1.0), 0),
            (0, 1, lab_orange, dict(color=ORANGE, lw=1.2, ls=(0, (3.5, 2.5))), 0),
            (1, 0, lab_med, dict(color=MEDC, lw=1.2), L["med_dy"]),
            (1, 1, lab_purple, dict(color=PURPLE, lw=2.9), 0),
        ]
    for col, row, lines, style, dy in entries:
        hx = L["h1"] if col == 0 else L["h2"]
        tx = L["t1"] if col == 0 else L["t2"]
        ys = [v + dy for v in L["rows"][row]]
        fig.add_artist(Line2D([fx(hx[0]), fx(hx[1])], [fy(ys[0]), fy(ys[0])], transform=fig.transFigure, **style))
        for k, txt in enumerate(lines):
            fig.text(fx(tx), fy(ys[k]), txt, fontsize=FS, va="center", ha="left")

fig.savefig("out.png", dpi=100)
